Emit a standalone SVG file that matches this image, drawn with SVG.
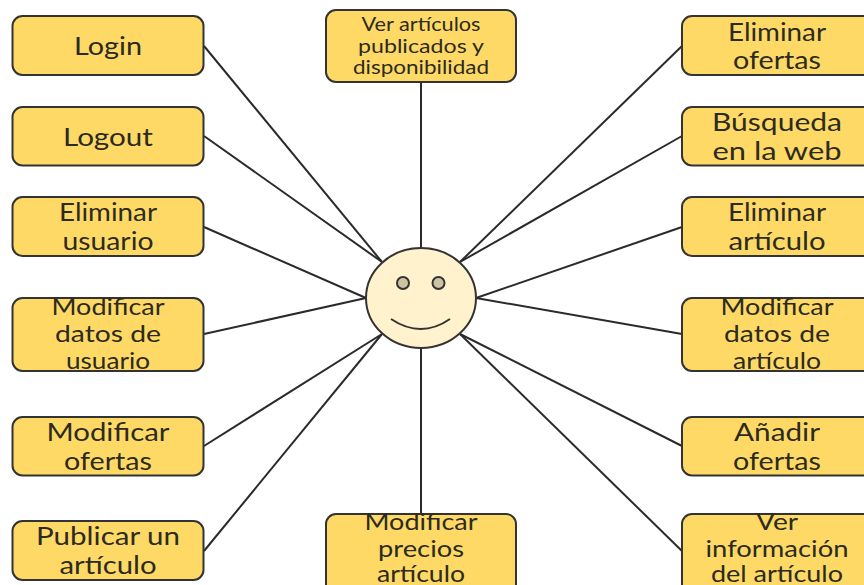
<svg xmlns="http://www.w3.org/2000/svg" width="864" height="585" viewBox="0 0 864 585">
<style>
.b{fill:#ffd966;stroke:#333;stroke-width:2}
.t{font-family:"Lato","Liberation Sans",sans-serif;font-size:25px;fill:#2b2b20;text-anchor:middle}
.s{font-size:19px}
.m{font-size:23px}
.c line{stroke:#2a2a2a;stroke-width:2}
.f{stroke:#333;stroke-width:2}
</style>
<rect width="864" height="585" fill="#fff"/>
<g class="c" id="connectors">
<line x1="204" y1="46" x2="382" y2="262"/><line x1="204" y1="136" x2="382" y2="262"/>
<line x1="204" y1="227" x2="366" y2="298"/><line x1="204" y1="334" x2="366" y2="298"/>
<line x1="204" y1="446" x2="382" y2="334"/><line x1="204" y1="551" x2="382" y2="334"/>
<line x1="421" y1="82" x2="421" y2="248"/><line x1="421" y1="348" x2="421" y2="514"/>
<line x1="682" y1="46" x2="460" y2="262"/><line x1="682" y1="136" x2="460" y2="262"/>
<line x1="682" y1="227" x2="476" y2="298"/><line x1="682" y1="334" x2="476" y2="298"/>
<line x1="682" y1="446" x2="460" y2="334"/><line x1="682" y1="551" x2="460" y2="334"/>
</g>
<g id="actor">
<ellipse class="f" cx="421" cy="298" rx="55" ry="50" fill="#fff2cc"/>
<circle class="f" cx="403" cy="283" r="6" fill="#cdc3a3"/>
<circle class="f" cx="438.500" cy="283" r="6" fill="#cdc3a3"/>
<path class="f" d="M391 319Q421 339 450 319" fill="none"/>
</g>
<g id="login"><rect class="b" x="12.500" y="16" width="191" height="59" rx="10"/><text class="t" x="108" y="55" textLength="68" lengthAdjust="spacingAndGlyphs">Login</text></g>
<g id="logout"><rect class="b" x="12.500" y="107" width="191" height="58.500" rx="10"/><text class="t" x="108" y="146" textLength="90" lengthAdjust="spacingAndGlyphs">Logout</text></g>
<g id="eliminar-usuario"><rect class="b" x="12.500" y="197" width="191" height="59" rx="10"/><text class="t" x="108" y="221" textLength="98" lengthAdjust="spacingAndGlyphs">Eliminar</text><text class="t" x="108" y="250" textLength="91" lengthAdjust="spacingAndGlyphs">usuario</text></g>
<g id="modificar-datos-usuario"><rect class="b" x="12.500" y="298" width="191" height="73" rx="10"/><text class="t m" x="108" y="315" textLength="113" lengthAdjust="spacingAndGlyphs">Modificar</text><text class="t m" x="108" y="342" textLength="106" lengthAdjust="spacingAndGlyphs">datos de</text><text class="t m" x="108" y="369" textLength="84" lengthAdjust="spacingAndGlyphs">usuario</text></g>
<g id="modificar-ofertas"><rect class="b" x="12.500" y="417" width="191" height="58.500" rx="10"/><text class="t" x="108" y="441" textLength="123" lengthAdjust="spacingAndGlyphs">Modificar</text><text class="t" x="108" y="470" textLength="88" lengthAdjust="spacingAndGlyphs">ofertas</text></g>
<g id="publicar-articulo"><rect class="b" x="12.500" y="521" width="191" height="59" rx="10"/><text class="t" x="108" y="545" textLength="144" lengthAdjust="spacingAndGlyphs">Publicar un</text><text class="t" x="108" y="574" textLength="97" lengthAdjust="spacingAndGlyphs">artículo</text></g>
<g id="ver-articulos"><rect class="b" x="326" y="10" width="190" height="72" rx="10"/><text class="t s" x="421" y="31" textLength="119" lengthAdjust="spacingAndGlyphs">Ver artículos</text><text class="t s" x="421" y="53" textLength="126" lengthAdjust="spacingAndGlyphs">publicados y</text><text class="t s" x="421" y="74" textLength="136" lengthAdjust="spacingAndGlyphs">disponibilidad</text></g>
<g id="modificar-precios"><rect class="b" x="326" y="514" width="190" height="80" rx="10"/><text class="t m" x="421" y="530" textLength="113" lengthAdjust="spacingAndGlyphs">Modificar</text><text class="t m" x="421" y="557" textLength="86" lengthAdjust="spacingAndGlyphs">precios</text><text class="t m" x="421" y="582" textLength="88" lengthAdjust="spacingAndGlyphs">artículo</text></g>
<g id="eliminar-ofertas"><rect class="b" x="682" y="16" width="200" height="59" rx="10"/><text class="t" x="777" y="41" textLength="98" lengthAdjust="spacingAndGlyphs">Eliminar</text><text class="t" x="777" y="69" textLength="88" lengthAdjust="spacingAndGlyphs">ofertas</text></g>
<g id="busqueda"><rect class="b" x="682" y="107" width="200" height="58.500" rx="10"/><text class="t" x="777" y="131" textLength="130" lengthAdjust="spacingAndGlyphs">Búsqueda</text><text class="t" x="777" y="160" textLength="129" lengthAdjust="spacingAndGlyphs">en la web</text></g>
<g id="eliminar-articulo"><rect class="b" x="682" y="197" width="200" height="59" rx="10"/><text class="t" x="777" y="221" textLength="98" lengthAdjust="spacingAndGlyphs">Eliminar</text><text class="t" x="777" y="250" textLength="97" lengthAdjust="spacingAndGlyphs">artículo</text></g>
<g id="modificar-datos-articulo"><rect class="b" x="682" y="298" width="200" height="73" rx="10"/><text class="t m" x="777" y="315" textLength="113" lengthAdjust="spacingAndGlyphs">Modificar</text><text class="t m" x="777" y="342" textLength="106" lengthAdjust="spacingAndGlyphs">datos de</text><text class="t m" x="777" y="369" textLength="88" lengthAdjust="spacingAndGlyphs">artículo</text></g>
<g id="anadir-ofertas"><rect class="b" x="682" y="417" width="200" height="58.500" rx="10"/><text class="t" x="777" y="441" textLength="86" lengthAdjust="spacingAndGlyphs">Añadir</text><text class="t" x="777" y="470" textLength="88" lengthAdjust="spacingAndGlyphs">ofertas</text></g>
<g id="ver-informacion"><rect class="b" x="682" y="514" width="200" height="80" rx="10"/><text class="t m" x="777" y="530" textLength="42" lengthAdjust="spacingAndGlyphs">Ver</text><text class="t m" x="777" y="557" textLength="143" lengthAdjust="spacingAndGlyphs">información</text><text class="t m" x="777" y="582" textLength="132" lengthAdjust="spacingAndGlyphs">del artículo</text></g>
</svg>
